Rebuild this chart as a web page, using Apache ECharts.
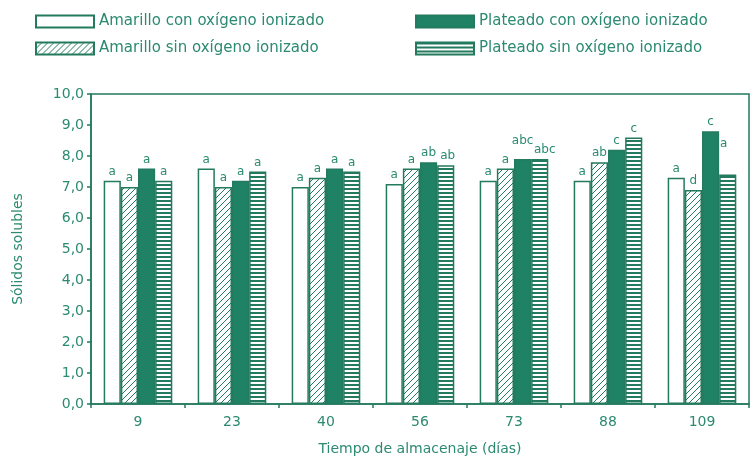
<!DOCTYPE html>
<html>
<head>
<meta charset="utf-8">
<script src="https://cdn.jsdelivr.net/npm/echarts@6/dist/echarts.min.js"></script>
<style>
  html, body { margin: 0; padding: 0; background: #fff; }
  #chart { width: 755px; height: 461px; }
</style>
</head>
<body>
<div id="chart"></div>
<script>
// Storage time (days)
const dias = ['9', '23', '40', '56', '73', '88', '109'];

const seriesNames = [
  'Amarillo con oxígeno ionizado',
  'Amarillo sin oxígeno ionizado',
  'Plateado con oxígeno ionizado',
  'Plateado sin oxígeno ionizado'
];

// Soluble solids per treatment
const amarilloCon = [7.2, 7.6, 7.0, 7.1, 7.2, 7.2, 7.3];
const amarilloSin = [7.0, 7.0, 7.3, 7.6, 7.6, 7.8, 6.9];
const plateadoCon = [7.6, 7.2, 7.6, 7.8, 7.9, 8.2, 8.8];
const plateadoSin = [7.2, 7.5, 7.5, 7.7, 7.9, 8.6, 7.4];

// Significance letters
const letrasAmarilloCon = ['a', 'a', 'a', 'a', 'a', 'a', 'a'];
const letrasAmarilloSin = ['a', 'a', 'a', 'a', 'a', 'ab', 'd'];
const letrasPlateadoCon = ['a', 'a', 'a', 'ab', 'abc', 'c', 'c'];
const letrasPlateadoSin = ['a', 'a', 'a', 'ab', 'abc', 'c', 'a'];

const GREEN = '#1f8265';
const LINE = '#237a5e';
const TEXT = '#2b8a70';
const FONT = '"DejaVu Sans", sans-serif';

function hatchPattern() {
  const c = document.createElement('canvas');
  c.width = 6; c.height = 6;
  const g = c.getContext('2d');
  g.fillStyle = '#fff';
  g.fillRect(0, 0, 6, 6);
  g.strokeStyle = LINE;
  g.lineWidth = 1;
  g.beginPath();
  g.moveTo(-1, 7); g.lineTo(7, -1);
  g.moveTo(-4, 4); g.lineTo(4, -4);
  g.moveTo(2, 10); g.lineTo(10, 2);
  g.stroke();
  return { image: c, repeat: 'repeat' };
}

function stripePattern() {
  const c = document.createElement('canvas');
  c.width = 4; c.height = 4;
  const g = c.getContext('2d');
  g.fillStyle = '#fff';
  g.fillRect(0, 0, 4, 4);
  g.fillStyle = LINE;
  g.fillRect(0, 0, 4, 2);
  return { image: c, repeat: 'repeat' };
}

function bar(name, values, letters, fill, labelShift) {
  return {
    name: name,
    type: 'bar',
    data: values.map((v, i) => {
      const item = { value: v };
      if (labelShift && labelShift[i]) item.label = { offset: labelShift[i] };
      return item;
    }),
    barGap: '0%',
    barCategoryGap: '27%',
    itemStyle: { color: fill, borderColor: LINE, borderWidth: 1.5 },
    label: {
      show: true,
      position: 'top',
      distance: 3,
      color: TEXT,
      fontFamily: FONT,
      fontSize: 12,
      formatter: p => letters[p.dataIndex]
    }
  };
}

const legendBase = {
  orient: 'vertical',
  top: 9,
  icon: 'rect',
  itemWidth: 58, itemHeight: 12, itemGap: 12,
  textStyle: { color: TEXT, fontSize: 15, fontFamily: FONT },
  selectedMode: false
};

const chart = echarts.init(document.getElementById('chart'));
chart.setOption({
  animation: false,
  backgroundColor: '#fff',
  textStyle: { fontFamily: FONT },
  legend: [
    Object.assign({}, legendBase, { data: [seriesNames[0], seriesNames[1]], left: 30 }),
    Object.assign({}, legendBase, { data: [seriesNames[2], seriesNames[3]], left: 410 })
  ],
  grid: {
    left: 91, right: 6, top: 94, bottom: 57,
    show: true, borderColor: LINE, borderWidth: 1.5
  },
  xAxis: {
    type: 'category',
    data: dias,
    name: 'Tiempo de almacenaje (días)',
    nameLocation: 'middle',
    nameGap: 38,
    nameTextStyle: { color: TEXT, fontSize: 14 },
    axisLine: { lineStyle: { color: LINE, width: 1.5 } },
    axisTick: { show: true, length: 4, lineStyle: { color: LINE, width: 1.5 } },
    axisLabel: { color: TEXT, fontSize: 14, margin: 11 }
  },
  yAxis: {
    type: 'value',
    min: 0, max: 10, interval: 1,
    name: 'Sólidos solubles',
    nameLocation: 'middle',
    nameGap: 66,
    nameTextStyle: { color: TEXT, fontSize: 14 },
    axisLine: { show: true, lineStyle: { color: LINE, width: 1.5 } },
    axisTick: { show: true, length: 4, lineStyle: { color: LINE, width: 1.5 } },
    splitLine: { show: false },
    axisLabel: {
      color: TEXT, fontSize: 14, margin: 7,
      formatter: v => v.toFixed(1).replace('.', ',')
    }
  },
  series: [
    bar(seriesNames[0], amarilloCon, letrasAmarilloCon, '#fff'),
    bar(seriesNames[1], amarilloSin, letrasAmarilloSin, hatchPattern()),
    bar(seriesNames[2], plateadoCon, letrasPlateadoCon, GREEN,
        [null, null, null, null, [0, -9], null, null]),
    bar(seriesNames[3], plateadoSin, letrasPlateadoSin, stripePattern(),
        [null, null, null, [2, 0], [5, 0], null, [-4, -22]])
  ]
});
</script>
</body>
</html>
